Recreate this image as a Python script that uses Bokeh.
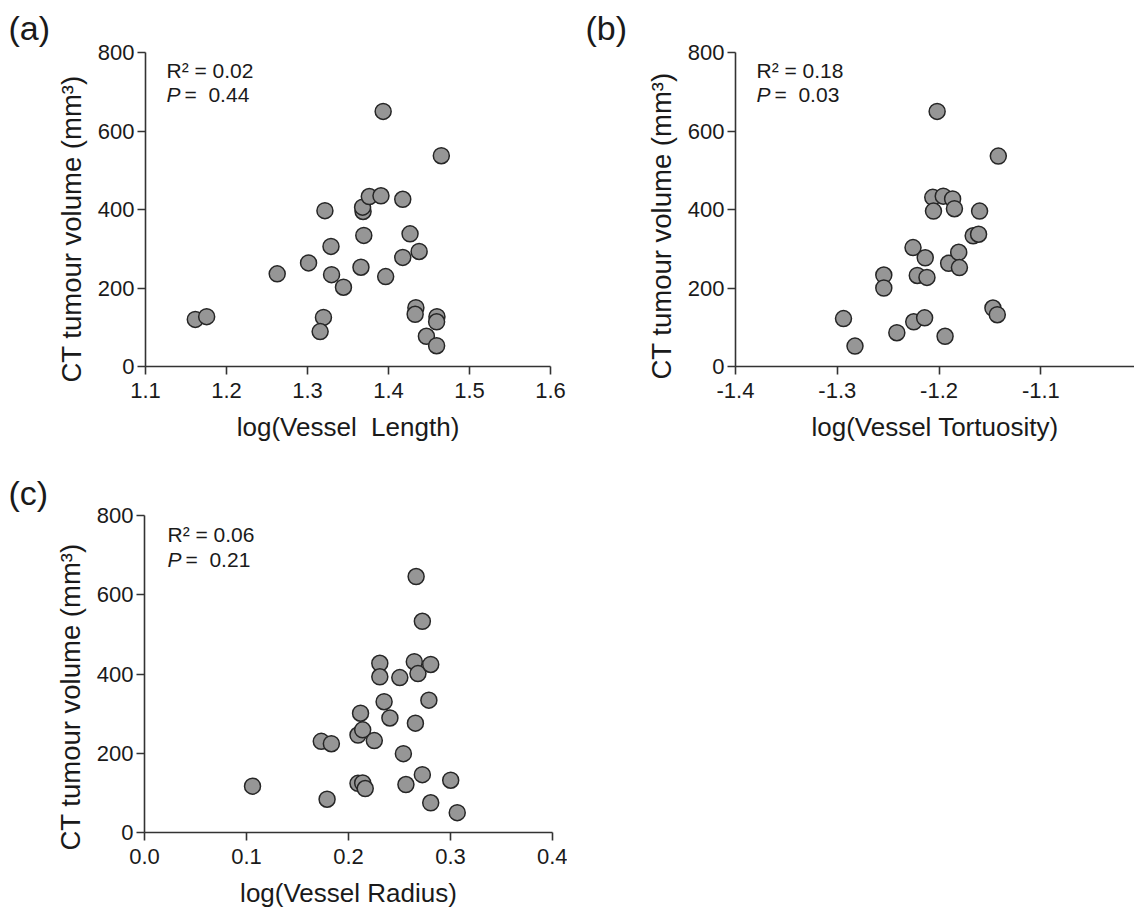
from bokeh.embed import file_html
from bokeh.layouts import column, row
from bokeh.models import FixedTicker, Label, PrintfTickFormatter, Range1d, Title
from bokeh.plotting import figure
from bokeh.resources import INLINE

FONT = "Liberation Sans"
INK = "#1a1a1a"
NBSP = "\u00a0"

# ---- data -------------------------------------------------------------
# (a) log(Vessel Length) vs CT tumour volume (mm^3)
length_x = [1.1615, 1.1755, 1.2626, 1.3013, 1.3215, 1.3290, 1.3297, 1.3444,
            1.3197, 1.3156, 1.3660, 1.3695, 1.3686, 1.3680, 1.3763, 1.3907,
            1.3934, 1.3965, 1.4176, 1.4176, 1.4266, 1.4378, 1.4338, 1.4329,
            1.4468, 1.4594, 1.4598, 1.4594, 1.4652]
length_vol = [120, 127, 236, 264, 397, 306, 234, 202,
              125, 89, 253, 334, 395, 406, 433, 435,
              650, 229, 426, 278, 338, 293, 150, 133,
              77, 53, 127, 114, 537]

# (b) log(Vessel Tortuosity) vs CT tumour volume (mm^3)
tort_x = [-1.2939, -1.2826, -1.2543, -1.2543, -1.2415, -1.2256, -1.2249,
          -1.2214, -1.2136, -1.2142, -1.2119, -1.2062, -1.2055, -1.2019,
          -1.1959, -1.1941, -1.1906, -1.1867, -1.1849, -1.1807, -1.1800,
          -1.1665, -1.1612, -1.1602, -1.1471, -1.1428, -1.1418]
tort_vol = [122, 52, 233, 200, 86, 303, 114,
            232, 277, 124, 227, 431, 396, 650,
            434, 77, 263, 427, 402, 291, 252,
            333, 337, 396, 149, 132, 536]

# (c) log(Vessel Radius) vs CT tumour volume (mm^3)
radius_x = [0.1059, 0.1733, 0.1832, 0.1790, 0.2093, 0.2118, 0.2139, 0.2093,
            0.2139, 0.2164, 0.2253, 0.2307, 0.2307, 0.2349, 0.2406, 0.2503,
            0.2538, 0.2563, 0.2663, 0.2656, 0.2645, 0.2681, 0.2724, 0.2724,
            0.2806, 0.2788, 0.2806, 0.3002, 0.3066]
radius_vol = [117, 230, 224, 84, 246, 301, 259, 124,
              125, 111, 232, 427, 393, 330, 289, 391,
              199, 121, 646, 276, 431, 401, 533, 146,
              424, 334, 75, 132, 50]

volume_ticks = [0, 200, 400, 600, 800]
length_ticks = [1.1, 1.2, 1.3, 1.4, 1.5, 1.6]
tort_ticks = [-1.4, -1.3, -1.2, -1.1]
radius_ticks = [0.0, 0.1, 0.2, 0.3, 0.4]

Y_LABEL = "CT tumour volume (mm\u00b3)"


def panel(tag, xs, ys, x_range, x_ticks, x_label, r2, pval,
          width, height, borders, offsets):
    left, right, top, bottom = borders
    fw = width - left - right
    fh = height - top - bottom
    y_range = (0, 800)

    p = figure(width=width, height=height,
               x_range=Range1d(*x_range), y_range=Range1d(*y_range),
               output_backend="svg", toolbar_location=None,
               min_border_left=left, min_border_right=right,
               min_border_top=top, min_border_bottom=bottom)
    p.background_fill_color = "white"
    p.border_fill_color = "white"
    p.outline_line_color = None
    p.grid.visible = False

    for ax in (p.xaxis[0], p.yaxis[0]):
        ax.axis_line_color = "#333333"
        ax.axis_line_width = 1.6
        ax.major_tick_line_color = "#333333"
        ax.major_tick_line_width = 1.6
        ax.major_tick_out = 8
        ax.major_tick_in = 0
        ax.minor_tick_line_color = None
        ax.major_label_text_font = FONT
        ax.major_label_text_font_size = "22px"
        ax.major_label_text_color = INK

    p.xaxis.ticker = FixedTicker(ticks=x_ticks)
    p.xaxis.formatter = PrintfTickFormatter(format="%.1f")
    p.xaxis.major_label_standoff = 8
    p.xaxis.axis_label = x_label
    p.xaxis.axis_label_text_font = FONT
    p.xaxis.axis_label_text_font_size = "26px"
    p.xaxis.axis_label_text_font_style = "normal"
    p.xaxis.axis_label_text_color = INK
    p.xaxis.axis_label_standoff = 11

    p.yaxis.ticker = FixedTicker(ticks=volume_ticks)
    p.yaxis.formatter = PrintfTickFormatter(format="%d")
    p.yaxis.major_label_standoff = 3

    p.scatter(xs, ys, marker="circle", size=16,
              fill_color="#969696", line_color="#262626", line_width=1.5)

    tag_offset, tag_standoff, ylab_offset, txt_dx, r_dy, p_dy = offsets

    # panel tag as the plot title, shifted left past the frame
    p.title.text = tag
    p.title.align = "left"
    p.title.offset = tag_offset
    p.title.standoff = tag_standoff
    p.title.text_font = FONT
    p.title.text_font_size = "34px"
    p.title.text_font_style = "normal"
    p.title.text_color = INK

    # vertical quantity label, outside the y axis; starts a little
    # below the x axis line
    p.add_layout(Title(text=Y_LABEL, align="left", offset=ylab_offset,
                       standoff=15, text_font=FONT,
                       text_font_size="27.5px", text_font_style="normal",
                       text_color=INK), "left")

    # pixel offsets from the frame's top-left corner -> data coordinates
    def at(dx, dy):
        x = x_range[0] + dx * (x_range[1] - x_range[0]) / fw
        y = y_range[1] - dy * (y_range[1] - y_range[0]) / fh
        return x, y

    x, y = at(txt_dx, r_dy)
    p.add_layout(Label(x=x, y=y, text=f"R\u00b2 = {r2}", text_font=FONT,
                       text_font_size="21px", text_color=INK,
                       text_align="left", text_baseline="middle"))
    x, y = at(txt_dx, p_dy)
    p.add_layout(Label(x=x, y=y, text="P", text_font=FONT,
                       text_font_style="italic", text_font_size="21px",
                       text_color=INK, text_align="left",
                       text_baseline="middle"))
    x, y = at(txt_dx + 18, p_dy)
    p.add_layout(Label(x=x, y=y, text=f"={NBSP}{NBSP}{pval}", text_font=FONT,
                       text_font_size="21px", text_color=INK,
                       text_align="left", text_baseline="middle"))
    return p


pa = panel("(a)", length_x, length_vol, (1.1, 1.6), length_ticks,
           f"log(Vessel{NBSP} Length)", "0.02", "0.44",
           567, 450, (145, 17, 52, 84),
           (-137, 11, -16, 21, 18, 42))

pb = panel("(b)", tort_x, tort_vol, (-1.4, -1.008), tort_ticks,
           "log(Vessel Tortuosity)", "0.18", "0.03",
           567, 450, (168, 0, 52, 83),
           (-150, 11, -13, 21, 18, 42))

pc = panel("(c)", radius_x, radius_vol, (0.0, 0.4), radius_ticks,
           "log(Vessel Radius)", "0.06", "0.21",
           567, 461, (144, 15, 65, 79),
           (-136, 7, -18, 23, 19, 44))

layout = column(row(pa, pb), row(pc))

open("out.html", "w").write(file_html(layout, INLINE))
